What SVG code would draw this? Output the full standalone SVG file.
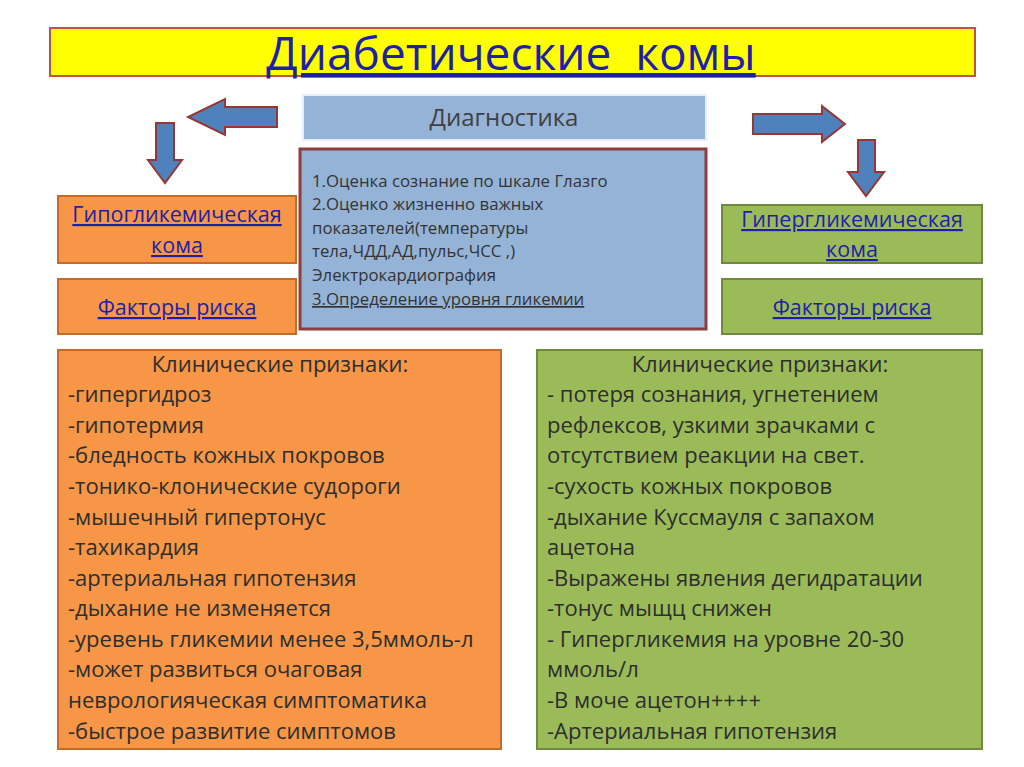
<svg xmlns="http://www.w3.org/2000/svg" width="1024" height="767" viewBox="0 0 1024 767">
<style>
text{font-family:"Open Sans","Liberation Sans",sans-serif}
.arr{fill:#4f81bd;stroke:#953735;stroke-width:2}
.or{fill:#f79646;stroke:#c46b28;stroke-width:2}
.gr{fill:#9bbb59;stroke:#71893f;stroke-width:2}
.lk{fill:#1f1fa8;text-decoration:underline;font-size:21.5px;text-anchor:middle}
.big{font-size:22px;fill:#2e2e2e}
.sm{font-size:16.8px;fill:#333}
</style>
<rect width="1024" height="767" fill="#fff"/>
<g id="title"><rect x="50" y="28" width="925" height="48" fill="#ffff00" stroke="#c0504d" stroke-width="2"/>
<text x="511" y="70" font-size="46" fill="#1f1fa8" text-anchor="middle" text-decoration="underline" xml:space="preserve">Диабетические  комы</text></g>
<g id="connectors">
<polygon class="arr" points="277,107 225,107 225,99 188,117 225,135 225,127 277,127"/>
<polygon class="arr" points="156,123 174,123 174,160 182,160 165,183 148,160 156,160"/>
<polygon class="arr" points="753,114 822,114 822,106 845,124 822,142 822,134 753,134"/>
<polygon class="arr" points="858,140 875,140 875,172 884,172 866,196 848,172 858,172"/>
</g>
<g id="diag"><rect x="303" y="95" width="403" height="45" fill="#95b3d7" stroke="#e8eef7" stroke-width="2"/>
<text x="504" y="126" font-size="24" fill="#404040" text-anchor="middle">Диагностика</text></g>
<g id="diaglist"><rect x="300" y="149" width="406" height="180" fill="#95b3d7" stroke="#8c3f3f" stroke-width="3"/>
<text class="sm" x="312" y="187">1.Оценка сознание по шкале Глазго</text>
<text class="sm" x="312" y="210">2.Оценко жизненно важных</text>
<text class="sm" x="312" y="234">показателей(температуры</text>
<text class="sm" x="312" y="257">тела,ЧДД,АД,пульс,ЧСС ,)</text>
<text class="sm" x="312" y="281">Электрокардиография</text>
<text class="sm" x="312" y="305" fill="#1f1fa8" text-decoration="underline">3.Определение уровня гликемии</text></g>
<g id="hypo"><rect class="or" x="58" y="196" width="238" height="67"/>
<text class="lk" x="177" y="222">Гипогликемическая</text><text class="lk" x="177" y="253">кома</text></g>
<g id="hypo-risk"><rect class="or" x="58" y="279" width="238" height="55"/>
<text class="lk" x="177" y="315">Факторы риска</text></g>
<g id="hyper"><rect class="gr" x="722" y="205" width="260" height="58"/>
<text class="lk" x="852" y="227">Гипергликемическая</text><text class="lk" x="852" y="257">кома</text></g>
<g id="hyper-risk"><rect class="gr" x="722" y="279" width="260" height="55"/>
<text class="lk" x="852" y="315">Факторы риска</text></g>
<g id="hypo-signs"><rect class="or" x="58" y="350" width="443" height="399"/>
<text class="big" x="280" y="372" text-anchor="middle">Клинические признаки:</text>
<text class="big" x="68" y="402">-гипергидроз</text>
<text class="big" x="68" y="433">-гипотермия</text>
<text class="big" x="68" y="463">-бледность кожных покровов</text>
<text class="big" x="68" y="494">-тонико-клонические судороги</text>
<text class="big" x="68" y="525">-мышечный гипертонус</text>
<text class="big" x="68" y="555">-тахикардия</text>
<text class="big" x="68" y="586">-артериальная гипотензия</text>
<text class="big" x="68" y="616">-дыхание не изменяется</text>
<text class="big" x="68" y="647">-уревень гликемии менее 3,5ммоль-л</text>
<text class="big" x="68" y="677">-может развиться очаговая</text>
<text class="big" x="68" y="708">неврологияческая симптоматика</text>
<text class="big" x="68" y="739">-быстрое развитие симптомов</text></g>
<g id="hyper-signs"><rect class="gr" x="537" y="350" width="445" height="399"/>
<text class="big" x="760" y="372" text-anchor="middle">Клинические признаки:</text>
<text class="big" x="547" y="402">- потеря сознания, угнетением</text>
<text class="big" x="547" y="433">рефлексов, узкими зрачками с</text>
<text class="big" x="547" y="463">отсутствием реакции на свет.</text>
<text class="big" x="547" y="494">-сухость кожных покровов</text>
<text class="big" x="547" y="525">-дыхание Куссмауля с запахом</text>
<text class="big" x="547" y="555">ацетона</text>
<text class="big" x="547" y="586">-Выражены явления дегидратации</text>
<text class="big" x="547" y="616">-тонус мыщц снижен</text>
<text class="big" x="547" y="647">- Гипергликемия на уровне 20-30</text>
<text class="big" x="547" y="677">ммоль/л</text>
<text class="big" x="547" y="708">-В моче ацетон++++</text>
<text class="big" x="547" y="739">-Артериальная гипотензия</text></g>
</svg>
